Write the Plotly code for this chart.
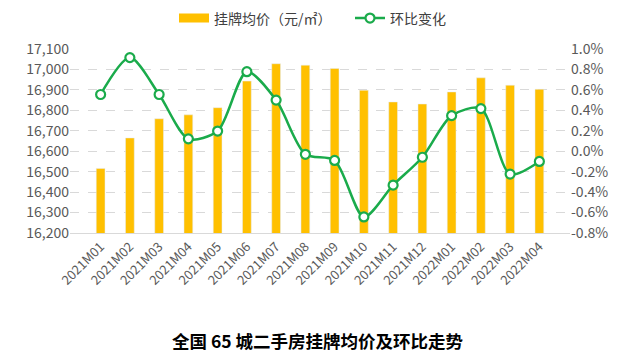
import plotly.graph_objects as go

months = ["2021M01", "2021M02", "2021M03", "2021M04", "2021M05", "2021M06", "2021M07", "2021M08",
          "2021M09", "2021M10", "2021M11", "2021M12", "2022M01", "2022M02", "2022M03", "2022M04"]
price = [16516, 16665, 16759, 16778, 16813, 16943, 17028, 17021, 17005, 16898, 16841, 16831,
         16890, 16959, 16923, 16903]
mom_pct = [0.555, 0.916, 0.555, 0.121, 0.197, 0.778, 0.50, -0.03, -0.09, -0.643, -0.332, -0.059,
           0.348, 0.417, -0.224, -0.10]
left_ticks = [16200, 16300, 16400, 16500, 16600, 16700, 16800, 16900, 17000, 17100]
right_ticks = [-0.8, -0.6, -0.4, -0.2, 0.0, 0.2, 0.4, 0.6, 0.8, 1.0]
right_labels = ["-0.8%", "-0.6%", "-0.4%", "-0.2%", "0.0%", "0.2%", "0.4%", "0.6%", "0.8%", "1.0%"]

FONT = "Noto Sans CJK SC, Microsoft YaHei, sans-serif"
GRAY = "#595959"
GREEN = "#1AAB4B"
GOLD = "#FFC000"

fig = go.Figure()
fig.add_trace(go.Bar(x=months, y=price, name="挂牌均价（元/㎡）", marker_color=GOLD,
                     yaxis="y", showlegend=False))
# legend proxy for the bars (wide flat swatch like the original)
fig.add_trace(go.Scatter(x=[months[0]], y=[None], name="挂牌均价（元/㎡）", mode="lines",
                         line=dict(color=GOLD, width=9), yaxis="y", hoverinfo="skip"))
fig.add_trace(go.Scatter(x=months, y=mom_pct, name="环比变化", yaxis="y2", mode="lines+markers",
                         line=dict(color=GREEN, width=2.5, shape="spline", smoothing=0.8),
                         marker=dict(size=9, color="white", line=dict(color=GREEN, width=2.2))))

fig.update_layout(
    width=634, height=352,
    margin=dict(l=62, r=72, t=41, b=127, autoexpand=False),
    paper_bgcolor="white", plot_bgcolor="white",
    font=dict(family=FONT, color=GRAY, size=14),
    bargap=0.7,
    showlegend=True,
    legend=dict(orientation="h", x=0.208, xanchor="left", y=1.166, yanchor="middle",
                font=dict(size=14, color="#404040"), itemwidth=30,
                entrywidth=131, entrywidthmode="pixels"),
    xaxis=dict(type="category", tickangle=-45, showline=True, linecolor="#D9D9D9", linewidth=1,
               ticks="", tickfont=dict(size=13, color=GRAY)),
    yaxis=dict(range=[16200, 17100], tickvals=left_ticks, tickformat=",", showgrid=True,
               gridcolor="#D9D9D9", griddash="dash", zeroline=False, ticks="",
               tickfont=dict(size=14, color=GRAY)),
    yaxis2=dict(range=[-0.8, 1.0], tickvals=right_ticks, ticktext=right_labels, overlaying="y",
                side="right", showgrid=False, zeroline=False, ticks="",
                tickfont=dict(size=14, color=GRAY)),
    annotations=[dict(text="<b>全国 65 城二手房挂牌均价及环比走势</b>", xref="paper", yref="paper",
                      x=0.496, y=-0.582, xanchor="center", yanchor="middle", showarrow=False,
                      font=dict(size=17.5, color="black", family=FONT))],
)

fig.write_html("out.html")
